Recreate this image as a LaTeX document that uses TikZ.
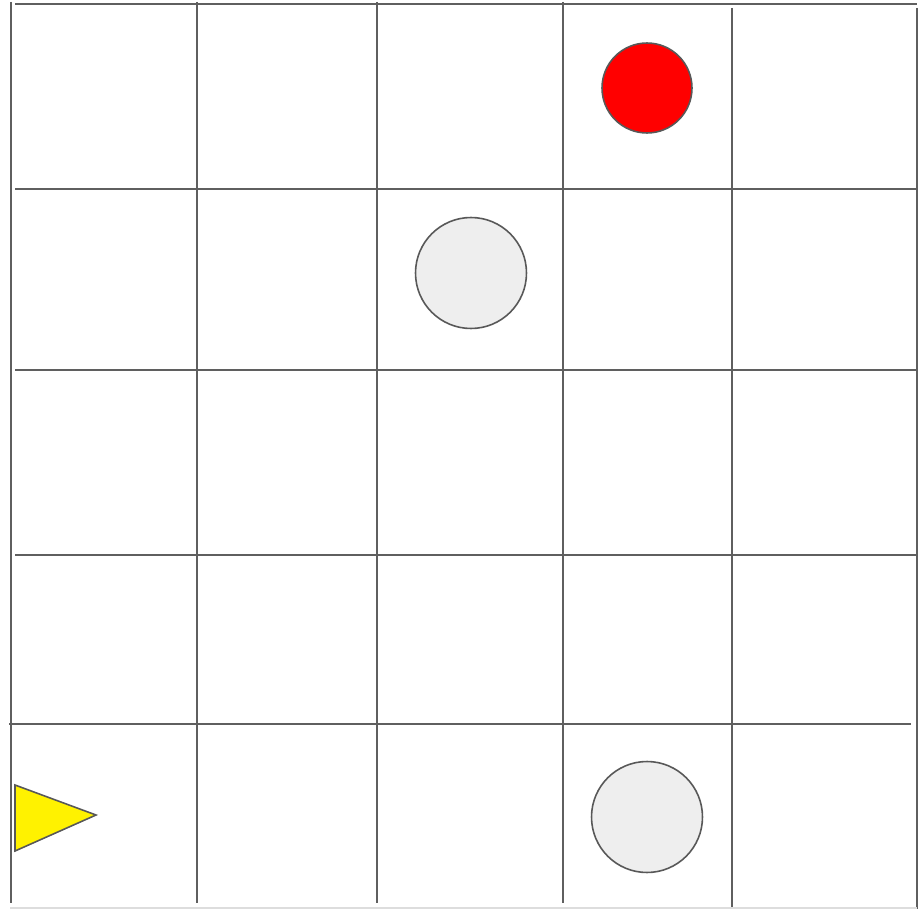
\documentclass[tikz,border=0pt]{standalone}
\usepackage{xcolor}
\usepackage{tikz}
\definecolor{gridgray}{RGB}{95,95,95}
\definecolor{edgegray}{RGB}{88,88,88}
\definecolor{rimgray}{RGB}{221,221,221}
\definecolor{stonegray}{RGB}{238,238,238}

\begin{document}
\begin{tikzpicture}[
    x=0.02cm, y=-0.02cm,
    gridline/.style={draw=gridgray, line width=1.1pt},
    rimline/.style={draw=rimgray, line width=0.9pt},
    token/.style={circle, draw=edgegray, line width=0.9pt, inner sep=0pt},
    goal/.style={token, fill=red, minimum size=1.8cm},
    stone/.style={token, fill=stonegray, minimum size=2.22cm},
    agent/.style={draw=edgegray, line width=0.9pt, fill=yellow, line join=miter}
]
\useasboundingbox (0,0) rectangle (920,909);

% Grid: vertical lines (x / top / bottom)
\foreach \xx/\ya/\yb in {11/2/903, 197/2/903, 377/2/903, 563/2/903, 732/8/909, 917/8/909}
    \draw[gridline] (\xx,\ya) -- (\xx,\yb);

% Grid: horizontal lines (y / left / right)
\foreach \yy/\xa/\xb in {4/15/917, 189/15/917, 370/15/917, 555/15/917, 724/9/911}
    \draw[gridline] (\xa,\yy) -- (\xb,\yy);

% Bottom edge
\draw[rimline] (10,908) -- (917,908);

% Goal
\node[goal] (target) at (647,88) {};

% Obstacles
\node[stone] (stoneA) at (471,273) {};
\node[stone] (stoneB) at (647,817) {};

% Agent
\draw[agent] (15,785) -- (96,815) -- (15,851) -- cycle;

\end{tikzpicture}
\end{document}
